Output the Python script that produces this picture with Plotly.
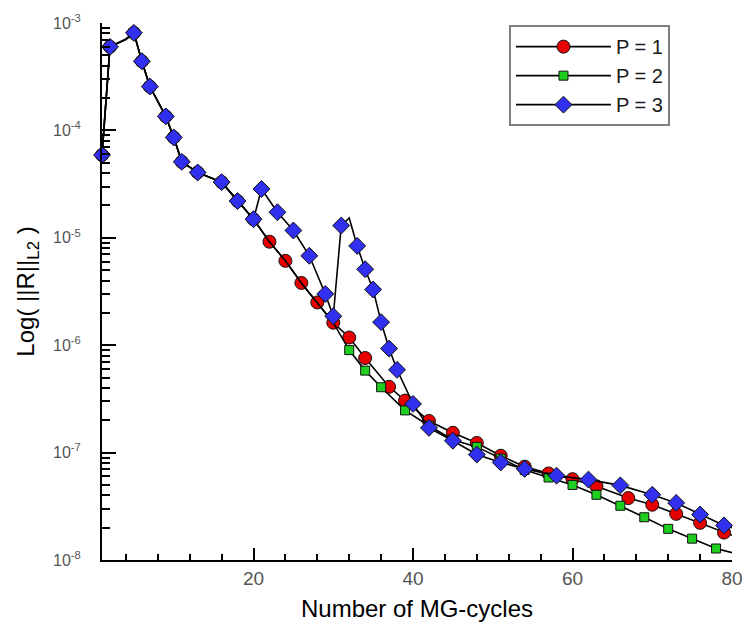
import plotly.graph_objects as go

# Residual history (L2 norm) versus multigrid cycle for three polynomial orders.
# Each series lists the cycle, the residual, and whether a symbol is drawn there.
p1_cycles = [1, 2, 4, 5, 6, 7, 9, 10, 11, 13, 16, 18, 20, 22, 24, 26, 28, 30, 32, 34,
             37, 39, 42, 45, 48, 51, 54, 57, 60, 63, 67, 70, 73, 76, 79, 80]
p1_resid = [5.9e-5, 6.0e-4, 7.06e-4, 8.1e-4, 4.4e-4, 2.56e-4, 1.35e-4, 8.6e-5, 5.1e-5,
            4.06e-5, 3.3e-5, 2.2e-5, 1.49e-5, 9.2e-6, 6.1e-6, 3.8e-6, 2.5e-6, 1.62e-6,
            1.18e-6, 7.6e-7, 4.1e-7, 3.05e-7, 1.97e-7, 1.53e-7, 1.23e-7, 9.35e-8, 7.4e-8,
            6.4e-8, 5.66e-8, 4.85e-8, 3.77e-8, 3.27e-8, 2.69e-8, 2.22e-8, 1.8e-8, 1.7e-8]
p1_marked = [1, 1, 0, 1, 1, 1, 1, 1, 1, 1, 1, 1, 1, 1, 1, 1, 1, 1, 1, 1,
             1, 1, 1, 1, 1, 1, 1, 1, 1, 1, 1, 1, 1, 1, 1, 0]

p2_cycles = [1, 2, 4, 5, 6, 7, 9, 10, 11, 13, 16, 18, 20, 22, 24, 26, 28, 30, 32, 34,
             36, 39, 42, 45, 48, 51, 54, 57, 60, 63, 66, 69, 72, 75, 78, 80]
p2_resid = [5.9e-5, 6.0e-4, 7.06e-4, 8.1e-4, 4.4e-4, 2.56e-4, 1.35e-4, 8.6e-5, 5.1e-5,
            4.06e-5, 3.3e-5, 2.2e-5, 1.49e-5, 9.2e-6, 6.1e-6, 3.8e-6, 2.5e-6, 1.62e-6,
            9.0e-7, 5.8e-7, 4.06e-7, 2.47e-7, 1.78e-7, 1.32e-7, 1.13e-7, 8.8e-8, 6.9e-8,
            5.86e-8, 5.0e-8, 4.05e-8, 3.2e-8, 2.5e-8, 1.95e-8, 1.58e-8, 1.28e-8, 1.17e-8]
p2_marked = [0, 0, 0, 0, 0, 0, 0, 0, 0, 0, 0, 0, 0, 0, 0, 0, 0, 0, 1, 1,
             1, 1, 1, 1, 1, 1, 1, 1, 1, 1, 1, 1, 1, 1, 1, 0]

p3_cycles = [1, 2, 4, 5, 6, 7, 9, 10, 11, 13, 16, 18, 20, 21, 23, 25, 27, 29, 30, 31,
             32, 33, 34, 35, 36, 37, 38, 40, 42, 45, 48, 51, 54, 58, 62, 66, 70, 73,
             76, 79, 80]
p3_resid = [5.9e-5, 6.0e-4, 7.06e-4, 8.1e-4, 4.4e-4, 2.56e-4, 1.35e-4, 8.6e-5, 5.1e-5,
            4.06e-5, 3.3e-5, 2.2e-5, 1.49e-5, 2.85e-5, 1.73e-5, 1.17e-5, 6.8e-6, 3.0e-6,
            1.86e-6, 1.3e-5, 1.53e-5, 8.4e-6, 5.1e-6, 3.3e-6, 1.64e-6, 9.3e-7, 5.9e-7,
            2.84e-7, 1.70e-7, 1.29e-7, 9.6e-8, 8.1e-8, 7.05e-8, 6.1e-8, 5.6e-8, 4.95e-8,
            4.05e-8, 3.4e-8, 2.65e-8, 2.1e-8, 2.0e-8]
p3_marked = [1, 1, 0, 1, 1, 1, 1, 1, 1, 1, 1, 1, 1, 1, 1, 1, 1, 1, 1, 1,
             0, 1, 1, 1, 1, 1, 1, 1, 1, 1, 1, 1, 1, 1, 1, 1, 1, 1,
             1, 1, 0]

series_names = ["P = 1", "P = 2", "P = 3"]
series_colors = ["#e60000", "#1fcf1f", "#3030ee"]
series_symbols = ["circle", "square", "diamond"]
series_sizes = [13, 9, 13]

x_ticks = [20, 40, 60, 80]
y_decades = [1e-8, 1e-7, 1e-6, 1e-5, 1e-4, 1e-3]
y_tick_text = ["10<sup>-8</sup>", "10<sup>-7</sup>", "10<sup>-6</sup>",
               "10<sup>-5</sup>", "10<sup>-4</sup>", "10<sup>-3</sup>"]

FONT = "Liberation Sans, Arial, sans-serif"

fig = go.Figure()

data = [(p1_cycles, p1_resid, p1_marked),
        (p2_cycles, p2_resid, p2_marked),
        (p3_cycles, p3_resid, p3_marked)]

for (xs, ys, marks), name, color, sym, size in zip(
        data, series_names, series_colors, series_symbols, series_sizes):
    fig.add_trace(go.Scatter(
        x=xs, y=ys, mode="lines+markers", name=name, showlegend=False,
        cliponaxis=False,
        line=dict(color="black", width=1.6),
        marker=dict(symbol=sym, color=color, opacity=1,
                    size=[size if m else 0 for m in marks],
                    line=dict(color="#111111", width=[1 if m else 0 for m in marks])),
    ))

# legend entries (line with a single symbol)
for name, color, sym, size in zip(series_names, series_colors, series_symbols, series_sizes):
    fig.add_trace(go.Scatter(
        x=[None], y=[None], mode="lines+markers", name=name,
        line=dict(color="black", width=1.6),
        marker=dict(symbol=sym, color=color, size=size, opacity=1,
                    line=dict(color="#111111", width=1)),
    ))

minor_y = [m * d for d in y_decades[:-1] for m in range(2, 10)]

fig.update_layout(
    width=755, height=630,
    margin=dict(l=102, r=17, t=21, b=67),
    paper_bgcolor="white", plot_bgcolor="white",
    font=dict(family=FONT, color="black"),
    legend=dict(
        x=0.646, y=0.996, xanchor="left", yanchor="top",
        bgcolor="white", bordercolor="#808080", borderwidth=2,
        font=dict(size=20, color="#1a1a1a", family=FONT),
        itemwidth=95, tracegroupgap=0,
    ),
    xaxis=dict(
        range=[1, 80], showgrid=False, zeroline=False,
        showline=True, linecolor="black", linewidth=2,
        ticks="inside", ticklen=12, tickwidth=2, tickcolor="black",
        tickmode="array", tickvals=x_ticks,
        tickfont=dict(size=19, color="#555555"),
        minor=dict(ticks="inside", ticklen=6, tickwidth=1.5, tickcolor="black",
                   dtick=4, tick0=0, showgrid=False),
        title=dict(text="Number of MG-cycles", font=dict(size=24, color="black"),
                   standoff=12),
    ),
    yaxis=dict(
        type="log", range=[-8, -3], showgrid=False, zeroline=False,
        showline=True, linecolor="black", linewidth=2,
        ticks="inside", ticklen=14, tickwidth=2, tickcolor="black",
        tickmode="array", tickvals=y_decades, ticktext=y_tick_text,
        tickfont=dict(size=16, color="#555555"),
        ticklabelstandoff=16,
        minor=dict(ticks="inside", ticklen=8, tickwidth=1.5, tickcolor="black",
                   tickvals=minor_y, showgrid=False),
        title=dict(text="Log( ||R||<sub>L2</sub> )", font=dict(size=24, color="black"),
                   standoff=12),
    ),
)

fig.write_html("out.html")
